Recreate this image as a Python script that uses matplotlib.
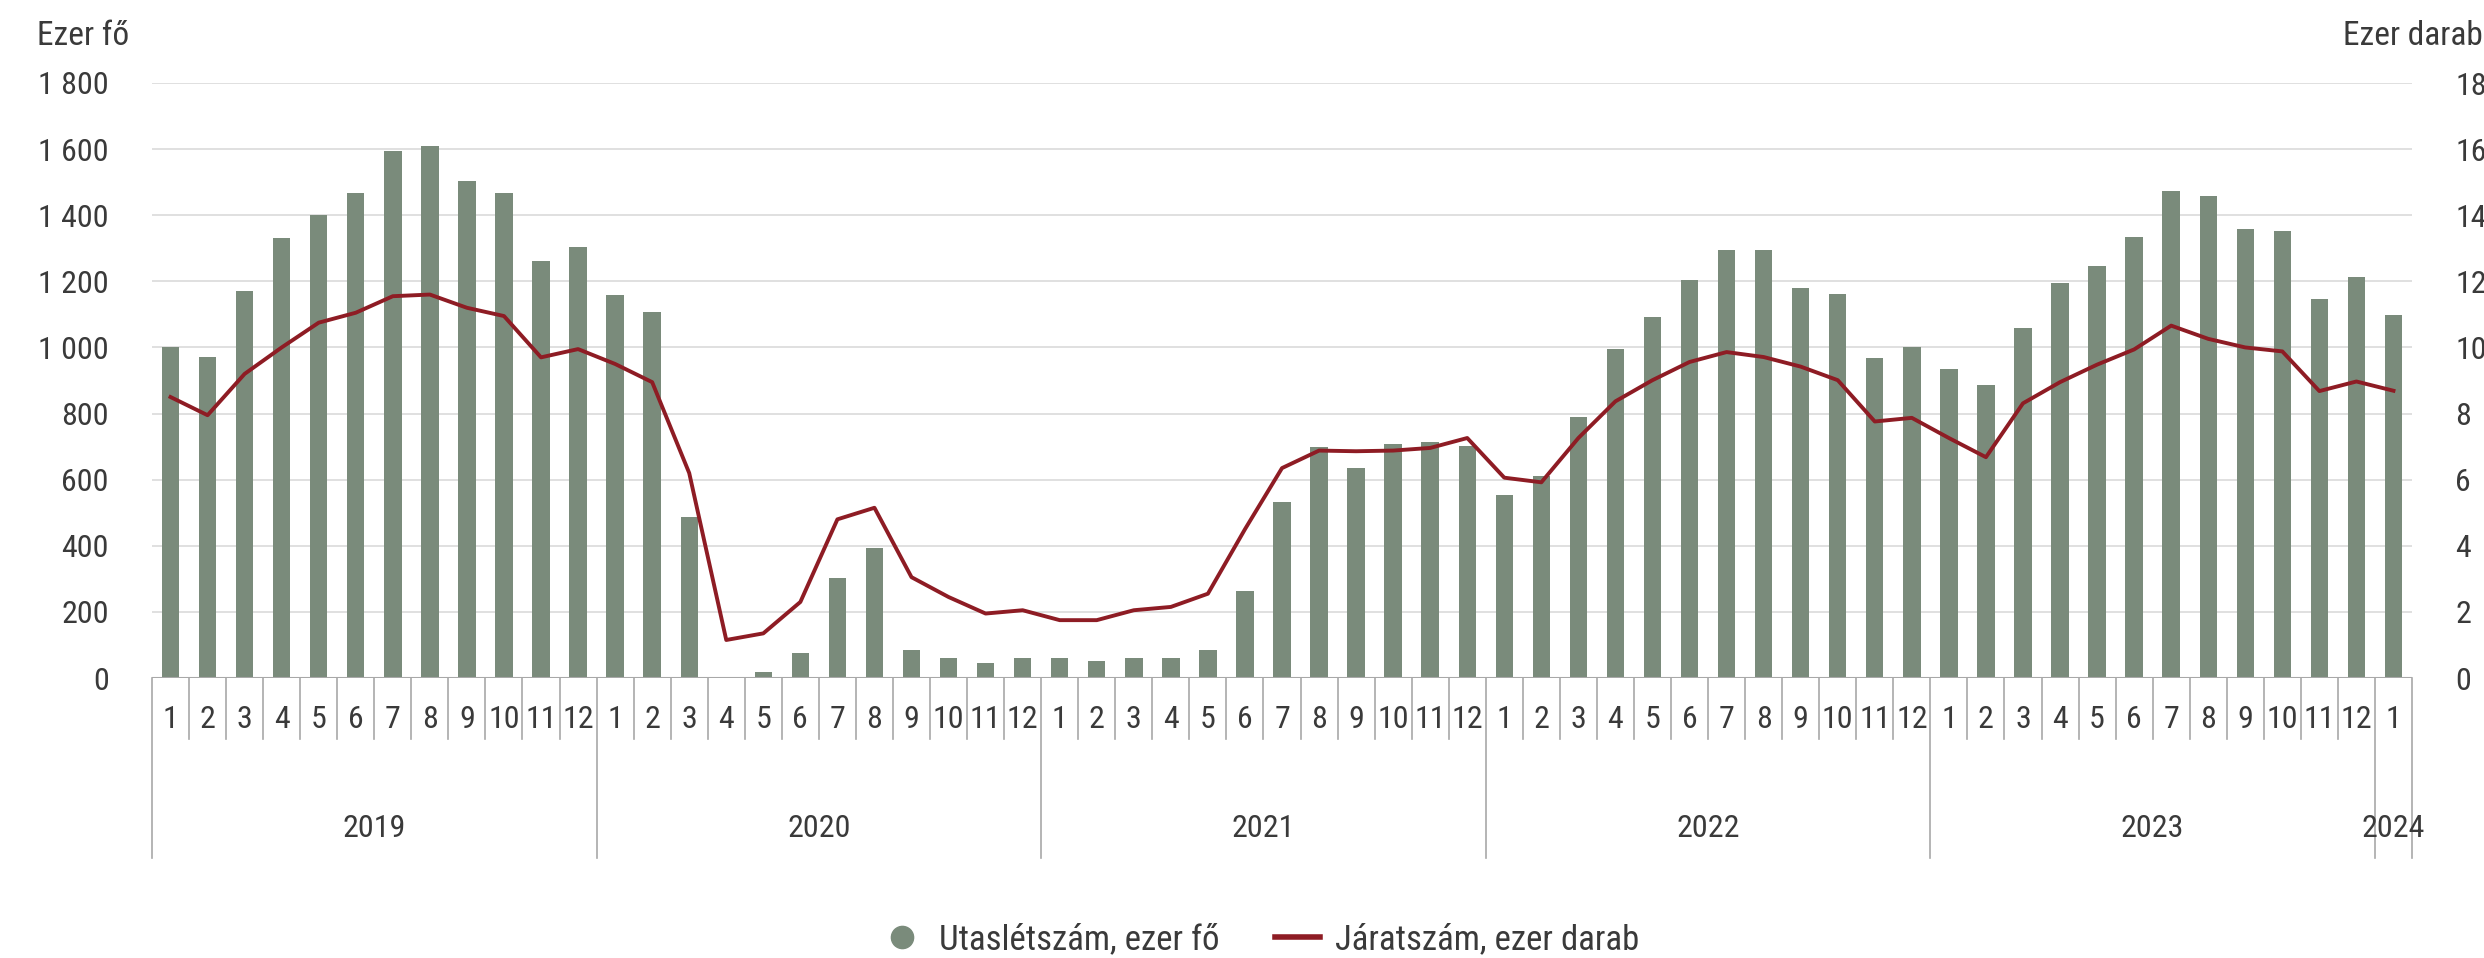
import matplotlib.pyplot as plt
import matplotlib.transforms as mtransforms
from matplotlib.lines import Line2D
from matplotlib.ticker import FuncFormatter, MultipleLocator

plt.rcParams['font.family'] = ['Roboto Condensed', 'Liberation Sans Narrow', 'Roboto', 'DejaVu Sans']

years = ['2019', '2020', '2021', '2022', '2023', '2024']
months_in_year = [12, 12, 12, 12, 12, 1]

# Utaslétszám, ezer fő
passengers = [
    1000, 970, 1170, 1330, 1402, 1467, 1595, 1610, 1505, 1467, 1262, 1305,
    1158, 1106, 488, 2, 18, 76, 302, 393, 84, 59, 44, 59,
    59, 51, 59, 59, 84, 262, 531, 698, 634, 708, 715, 702,
    555, 610, 790, 994, 1091, 1204, 1294, 1294, 1181, 1163, 969, 1002,
    936, 887, 1058, 1196, 1245, 1334, 1474, 1457, 1359, 1352, 1148, 1212,
    1099,
]
# Járatszám, ezer darab
flights = [
    8.5, 7.95, 9.2, 10.0, 10.75, 11.05, 11.55, 11.6, 11.2, 10.95, 9.7, 9.95,
    9.5, 8.95, 6.2, 1.15, 1.35, 2.3, 4.8, 5.15, 3.05, 2.45, 1.95, 2.05,
    1.75, 1.75, 2.05, 2.15, 2.55, 4.5, 6.35, 6.88, 6.86, 6.88, 6.96, 7.26,
    6.06, 5.92, 7.26, 8.37, 9.01, 9.56, 9.86, 9.71, 9.42, 9.01, 7.76, 7.87,
    7.26, 6.68, 8.31, 8.95, 9.48, 9.94, 10.66, 10.26, 10.0, 9.88, 8.68, 8.97,
    8.69,
]

BAR_COLOR = '#7a8b7b'
LINE_COLOR = '#8e1c24'
TEXT_COLOR = '#3a3a3a'
GRID_COLOR = '#dadada'
SEP_COLOR = '#a8a8a8'
FS = 23

W, H = 2484, 958
fig = plt.figure(figsize=(W / 100, H / 100), dpi=100)
left, right, top, bottom = 152, 2412, 83, 678
ax = fig.add_axes([left / W, 1 - bottom / H, (right - left) / W, (bottom - top) / H])

n = len(passengers)
x = list(range(n))
ax.bar(x, passengers, width=0.47, color=BAR_COLOR, zorder=2)
ax.set_xlim(-0.5, n - 0.5)
ax.set_ylim(0, 1800)
ax.yaxis.set_major_locator(MultipleLocator(200))
ax.yaxis.set_major_formatter(FuncFormatter(lambda v, _: f'{int(v):,}'.replace(',', ' ')))
ax.grid(axis='y', color=GRID_COLOR, linewidth=1.2, zorder=0)
ax.set_axisbelow(True)
ax.tick_params(axis='y', length=0, pad=31, labelsize=FS, labelcolor=TEXT_COLOR)
ax.set_xticks([])
for s in ax.spines.values():
    s.set_visible(False)
ax.axhline(0, color=SEP_COLOR, linewidth=1.5, zorder=3)

ax2 = ax.twinx()
ax2.plot(x, flights, color=LINE_COLOR, linewidth=2.8, zorder=4)
ax2.set_ylim(0, 18)
ax2.yaxis.set_major_locator(MultipleLocator(2))
ax2.tick_params(axis='y', length=0, pad=31, labelsize=FS, labelcolor=TEXT_COLOR)
for s in ax2.spines.values():
    s.set_visible(False)

# two-level category axis: months, then years
trans = mtransforms.blended_transform_factory(ax.transData, ax.transAxes)
span = bottom - top
month_sep = -(739 - bottom) / span
year_sep = -(858 - bottom) / span
month_y = -(728 - bottom) / span
year_y = -(837 - bottom) / span

i = 0
boundaries = [0]
for yr, cnt in zip(years, months_in_year):
    for m in range(cnt):
        ax.text(i + m, month_y, str(m + 1), transform=trans, ha='center', va='baseline',
                fontsize=FS, color=TEXT_COLOR)
    ax.text(i + (cnt - 1) / 2, year_y, yr, transform=trans, ha='center', va='baseline',
            fontsize=FS, color=TEXT_COLOR)
    i += cnt
    boundaries.append(i)

for k in range(n + 1):
    low = year_sep if k in boundaries else month_sep
    ax.plot([k - 0.5, k - 0.5], [0, low], transform=trans, color=SEP_COLOR,
            linewidth=1.2, clip_on=False)

fig.text(37 / W, 1 - 45 / H, 'Ezer fő', ha='left', va='baseline', fontsize=FS + 1, color=TEXT_COLOR)
fig.text(2343 / W, 1 - 45 / H, 'Ezer darab', ha='left', va='baseline', fontsize=FS + 1, color=TEXT_COLOR)

handles = [
    Line2D([], [], marker='o', linestyle='none', markersize=16, color=BAR_COLOR),
    Line2D([], [], color=LINE_COLOR, linewidth=4),
]
fig.legend(handles, ['Utaslétszám, ezer fő', 'Járatszám, ezer darab'], loc='center',
           bbox_to_anchor=(0.507, 1 - 940 / H), ncol=2, frameon=False, fontsize=25,
           handlelength=1.3, columnspacing=1.6, handletextpad=0.42, labelcolor=TEXT_COLOR)

fig.savefig('out.png', dpi=100, facecolor='white')
